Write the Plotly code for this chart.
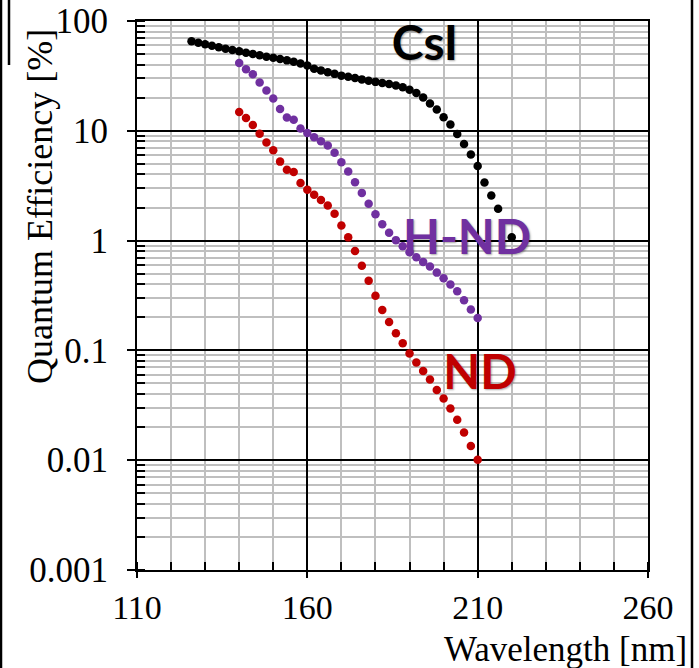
import plotly.graph_objects as go

# Wavelength grids [nm]
csi_wl = [126, 128, 130, 132, 134, 136, 138, 140, 142, 144, 146, 148, 150, 152,
          154, 156, 158, 160, 162, 164, 166, 168, 170, 172, 174, 176, 178, 180,
          182, 184, 186, 188, 190, 192, 194, 196, 198, 200, 202, 204, 206, 208,
          210, 212, 214, 216, 220]
nd_wl = list(range(140, 212, 2))

# Quantum efficiency [%]
csi_qe = [65.3, 63.3, 61.3, 59.4, 57.6, 56.0, 54.4, 52.9, 51.5, 50.1, 48.7, 47.3,
          46.2, 45.0, 43.8, 42.6, 41.1, 39.4, 36.7, 35.5, 34.2, 33.0, 31.8, 31.0,
          30.3, 29.4, 28.6, 27.9, 27.3, 26.7, 25.9, 24.9, 23.6, 22.1, 20.1, 17.7,
          15.6, 13.3, 11.4, 9.36, 7.59, 6.08, 4.78, 3.38, 2.57, 1.95, 1.07]
hnd_qe = [41.4, 36.3, 32.7, 27.6, 23.3, 19.7, 15.8, 13.2, 12.6, 10.5, 9.55, 8.75,
          8.03, 7.35, 6.31, 5.18, 4.26, 3.40, 2.72, 2.17, 1.74, 1.41, 1.18, 1.01,
          0.887, 0.782, 0.705, 0.640, 0.580, 0.511, 0.453, 0.399, 0.345, 0.286,
          0.236, 0.197]
nd_qe = [14.8, 13.1, 11.3, 9.39, 7.82, 6.66, 5.24, 4.41, 4.22, 3.35, 2.91, 2.61,
         2.34, 2.09, 1.76, 1.37, 1.07, 0.804, 0.591, 0.431, 0.314, 0.233, 0.181,
         0.143, 0.116, 0.0935, 0.0775, 0.065, 0.0542, 0.0436, 0.0364, 0.0295,
         0.0233, 0.0179, 0.0135, 0.0101]

y_tickvals = [0.001, 0.01, 0.1, 1, 10, 100]
y_ticktext = ["0.001", "0.01", "0.1", "1", "10", "100"]
x_tickvals = [110, 160, 210, 260]

# Series labels: (text, wavelength, QE, colour)
labels = [("CsI", 194.5, 56.8, "#000000"),
          ("H-ND", 206.9, 0.97, "#7030A0"),
          ("ND", 210.7, 0.0573, "#C00000")]

fig = go.Figure()

# Labels first so the dots are drawn over them
for txt, lx, ly, col in labels:
    fig.add_trace(go.Scatter(
        x=[lx], y=[ly], mode="text", text=[txt], showlegend=False,
        textfont=dict(family="Lato", size=48, color=col, weight="bold",
                      shadow="1px 1px 2px rgba(0,0,0,0.35)"),
        hoverinfo="skip"))

for xs, ys, col in [(csi_wl, csi_qe, "#000000"),
                    (nd_wl, hnd_qe, "#7030A0"),
                    (nd_wl, nd_qe, "#C00000")]:
    fig.add_trace(go.Scatter(
        x=xs, y=ys, mode="markers", showlegend=False,
        marker=dict(size=8.5, color=col, line=dict(width=0))))

serif = "Liberation Serif"

fig.update_xaxes(
    range=[110, 260], tickvals=x_tickvals, ticktext=[str(v) for v in x_tickvals],
    showgrid=True, gridcolor="#000000", gridwidth=2,
    showline=True, linecolor="#000000", linewidth=2, mirror=True,
    ticks="outside", ticklen=6, tickwidth=2, tickcolor="#000000",
    ticklabelstandoff=0, automargin=False,
    tickfont=dict(family=serif, size=34, color="#000000"),
    zeroline=False,
    minor=dict(dtick=10, tick0=110, showgrid=True, gridcolor="#BFBFBF",
               gridwidth=2, ticks="inside", ticklen=8, tickwidth=2,
               tickcolor="#000000"),
)
fig.update_yaxes(
    type="log", range=[-3, 2], tickvals=y_tickvals, ticktext=y_ticktext,
    showgrid=True, gridcolor="#000000", gridwidth=2,
    showline=True, linecolor="#000000", linewidth=2, mirror=True,
    ticks="outside", ticklen=8, tickwidth=2, tickcolor="#000000",
    ticklabelstandoff=12, automargin=False,
    tickfont=dict(family=serif, size=35, color="#000000"),
    zeroline=False,
    minor=dict(dtick="D1", showgrid=True, gridcolor="#BFBFBF", gridwidth=2,
               ticks="inside", ticklen=8, tickwidth=2, tickcolor="#000000"),
)

L, R, T, B = 137, 51, 21, 98
W, H = 699, 668
pw, ph = W - L - R, H - T - B


def px(xp):
    return (xp - L) / pw


def py(yp):
    return (H - B - yp) / ph


fig.add_annotation(text="Wavelength [nm]", xref="paper", yref="paper",
                   x=px(689), y=py(649), xanchor="right", yanchor="middle",
                   showarrow=False,
                   font=dict(family=serif, size=35, color="#000000"))
fig.add_annotation(text="Quantum Efficiency [%]", xref="paper", yref="paper",
                   x=px(40), y=py(207), xanchor="center", yanchor="middle",
                   textangle=-90, showarrow=False,
                   font=dict(family=serif, size=36, color="#000000"))

# Outer frame lines
frame = dict(color="#000000", width=2.5)
fig.add_shape(type="line", xref="paper", yref="paper",
              x0=px(1), x1=px(1), y0=py(0), y1=py(H), line=frame)
fig.add_shape(type="line", xref="paper", yref="paper",
              x0=px(9), x1=px(9), y0=py(0), y1=py(65), line=frame)
fig.add_shape(type="line", xref="paper", yref="paper",
              x0=px(692), x1=px(692), y0=py(0), y1=py(H), line=frame)

fig.update_layout(
    width=W, height=H, margin=dict(l=L, r=R, t=T, b=B, pad=0),
    paper_bgcolor="#FFFFFF", plot_bgcolor="#FFFFFF", showlegend=False,
)

fig.write_html("out.html")
